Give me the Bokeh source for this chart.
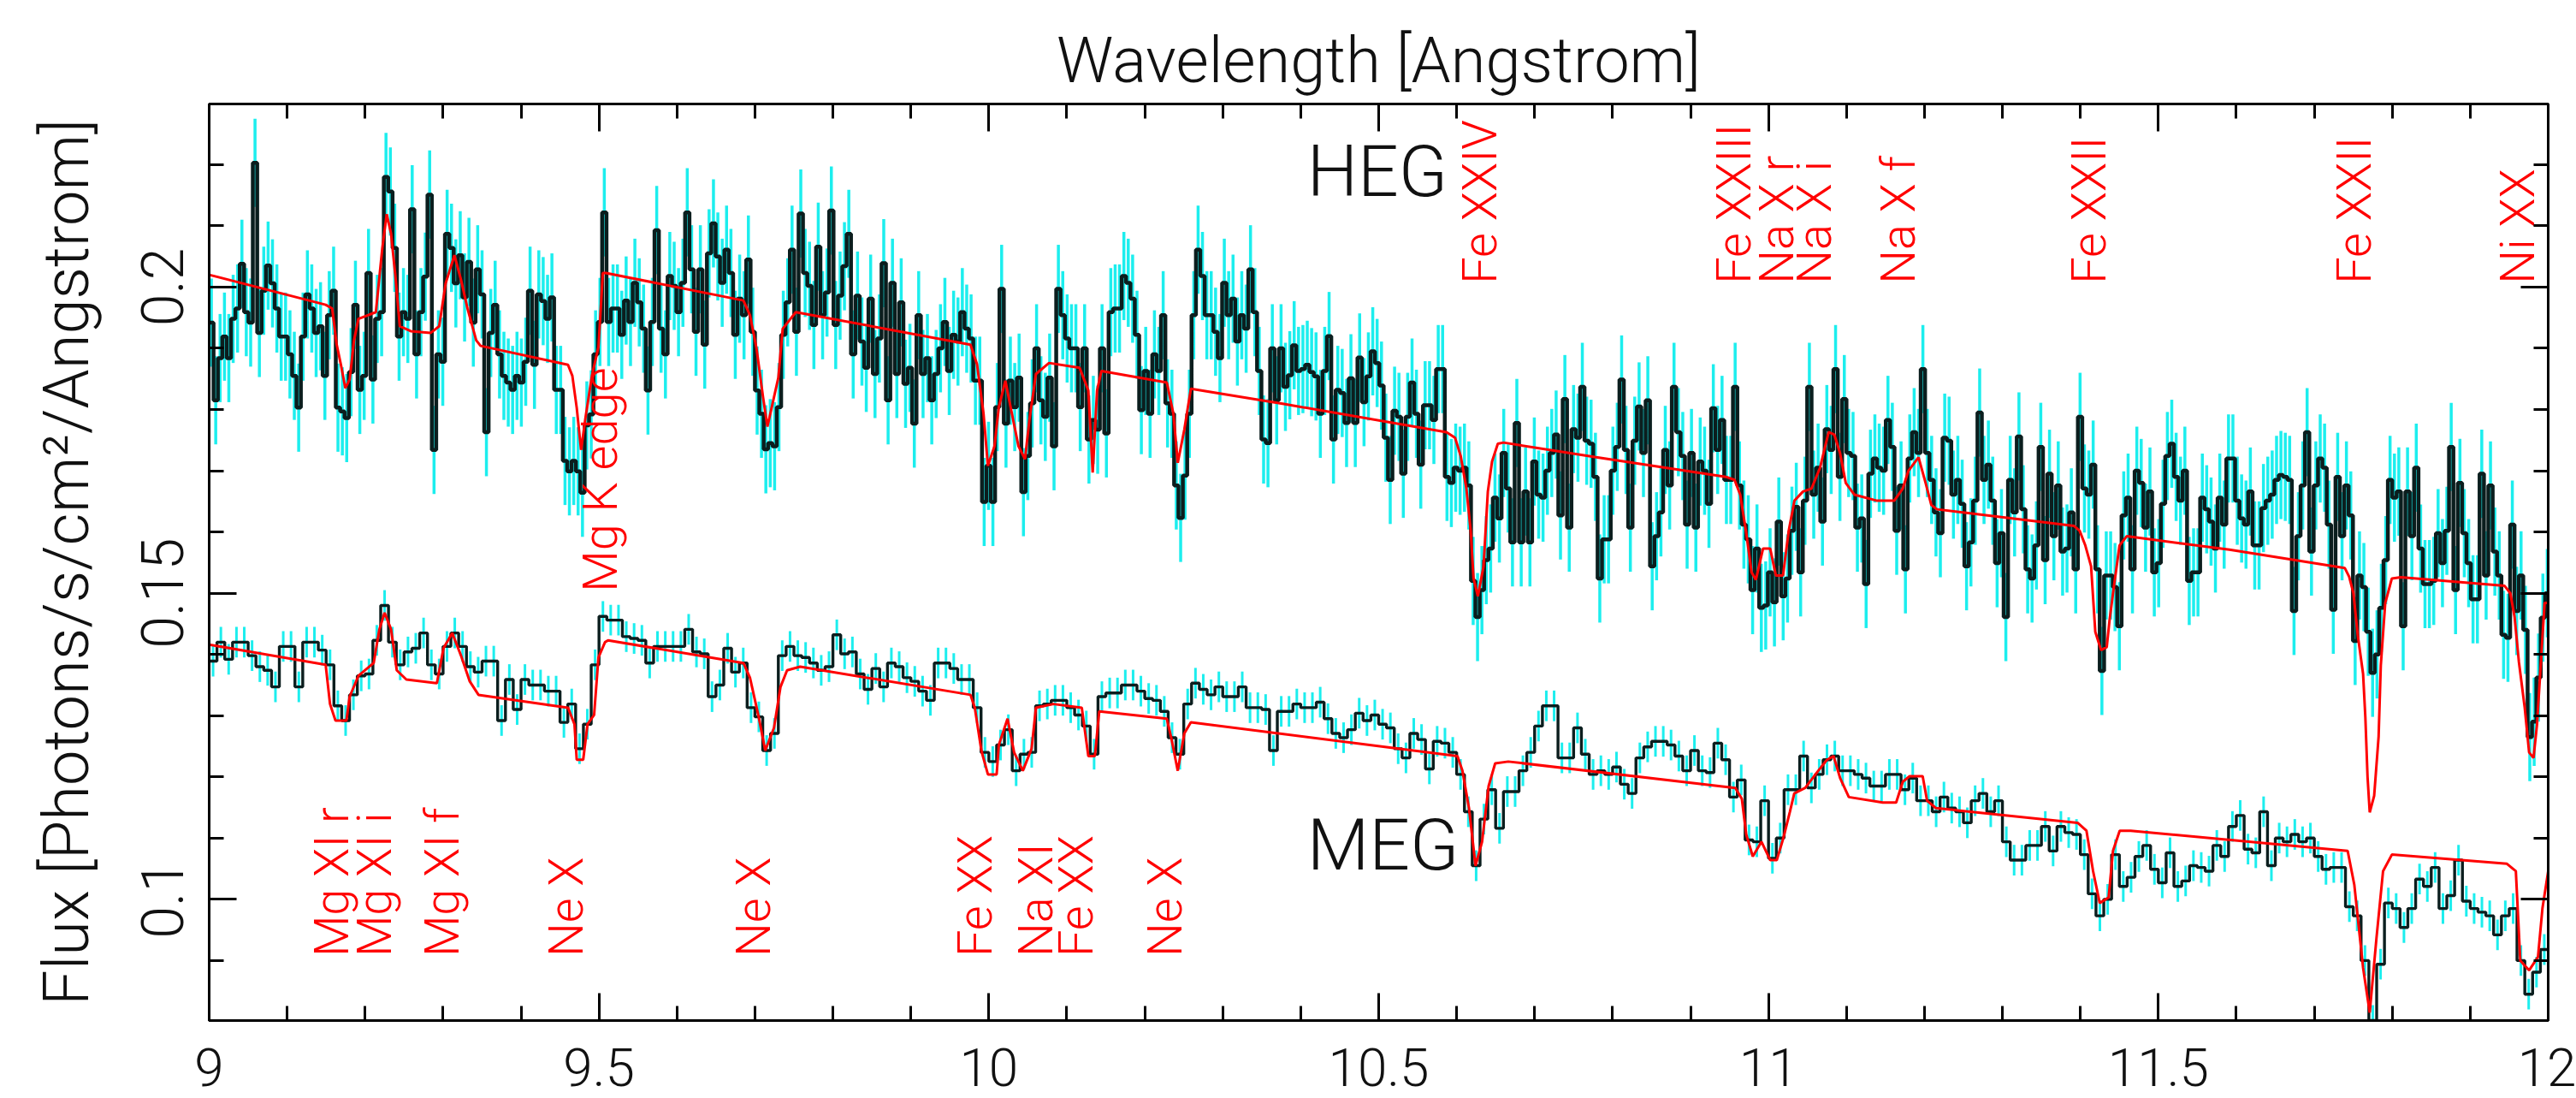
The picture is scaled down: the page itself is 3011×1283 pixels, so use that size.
import numpy as np
from bokeh.plotting import figure
from bokeh.models import (LinearAxis, FixedTicker, Range1d, ColumnDataSource,
                          CustomJSTickFormatter)
from bokeh.embed import file_html
from bokeh.resources import INLINE
from bokeh.core.properties import value

# ---------------- data ----------------
HEG_START = 9.0
HEG_BIN = 0.0056
heg_flux = [
    0.1942, 0.1815, 0.1884, 0.1919, 0.1884, 0.1948, 0.1965, 0.2038, 0.1959, 0.1942,
    0.2203, 0.1925, 0.1994, 0.2035, 0.2006, 0.1965, 0.1919, 0.1919, 0.1890, 0.1855,
    0.1803, 0.1919, 0.1988, 0.1965, 0.1925, 0.1936, 0.1855, 0.1954, 0.1994, 0.1803,
    0.1797, 0.1786, 0.1861, 0.1971, 0.1832, 0.1855, 0.2023, 0.1849, 0.1948, 0.1959,
    0.2180, 0.2156, 0.2064, 0.1919, 0.1959, 0.1948, 0.2127, 0.1890, 0.1959, 0.2017,
    0.2151, 0.1734, 0.1890, 0.1878, 0.2087, 0.2064, 0.2006, 0.2052, 0.1983, 0.2041,
    0.1942, 0.2029, 0.1988, 0.1763, 0.1925, 0.1971, 0.1890, 0.1855, 0.1844, 0.1832,
    0.1855, 0.1844, 0.1878, 0.1994, 0.1873, 0.1988, 0.1977, 0.1948, 0.1983, 0.1832,
    0.1832, 0.1716, 0.1699, 0.1716, 0.1699, 0.1664, 0.1774, 0.1792, 0.1890,
    0.1943, 0.2122, 0.1943, 0.1965, 0.1965, 0.1922, 0.1978, 0.1943, 0.2007, 0.1975,
    0.1932, 0.1831, 0.1943, 0.2093, 0.1932, 0.1890, 0.2018, 0.2002, 0.1959, 0.2007,
    0.2122, 0.2029, 0.1927, 0.2029, 0.1906, 0.2055, 0.2104, 0.2050, 0.2007, 0.2061,
    0.2023, 0.1922, 0.1981, 0.1954, 0.2045, 0.1927, 0.1831, 0.1793, 0.1735, 0.1745,
    0.1740, 0.1804, 0.1922, 0.1975, 0.2061, 0.1927, 0.2120, 0.2023, 0.2002, 0.1938,
    0.2066, 0.1954, 0.1991, 0.2125, 0.1938, 0.1986, 0.2034, 0.2087, 0.1890, 0.1986,
    0.1911, 0.1868, 0.1981, 0.1858, 0.1916, 0.2039, 0.1815, 0.2007, 0.1858, 0.1975,
    0.1842, 0.1868, 0.1777, 0.1954, 0.1858, 0.1884, 0.1815, 0.1858, 0.1900, 0.1943,
    0.1863, 0.1922, 0.1911, 0.1959, 0.1932, 0.1916, 0.1847, 0.1847, 0.1649, 0.1708,
    0.1649, 0.1804, 0.1997, 0.1777, 0.1847, 0.1804, 0.1852, 0.1665, 0.1724, 0.1810,
    0.1900, 0.1815, 0.1788, 0.1852, 0.1740, 0.1997, 0.1954, 0.1916, 0.1900, 0.1900,
    0.1804, 0.1900, 0.1751, 0.1783, 0.1767, 0.1900, 0.1761, 0.1959, 0.1965, 0.1965,
    0.2018, 0.2007, 0.1981, 0.1922, 0.1799, 0.1863, 0.1793, 0.1890, 0.1863, 0.1954,
    0.1810, 0.1793, 0.1676, 0.1623, 0.1692, 0.1793, 0.1954, 0.2061, 0.2018, 0.1954,
    0.1954, 0.1927, 0.1884, 0.2007, 0.1954, 0.1981, 0.1911, 0.1954, 0.1932, 0.2029,
    0.1959, 0.1863, 0.1751, 0.1745, 0.1900, 0.1815, 0.1900,
    0.1837, 0.1856, 0.1905, 0.1863, 0.1866, 0.1873, 0.1861, 0.1854, 0.1793, 0.1863,
    0.1920, 0.1751, 0.1832, 0.1827, 0.1778, 0.1851, 0.1778, 0.1885, 0.1812, 0.1854,
    0.1895, 0.1876, 0.1839, 0.1754, 0.1685, 0.1798, 0.1788, 0.1695, 0.1788, 0.1844,
    0.1793, 0.1710, 0.1807, 0.1807, 0.1783, 0.1866, 0.1866, 0.1690, 0.1680, 0.1705,
    0.1700, 0.1705, 0.1676, 0.1520, 0.1461, 0.1505, 0.1554, 0.1573, 0.1656, 0.1622,
    0.1729, 0.1671, 0.1583, 0.1778, 0.1583, 0.1666, 0.1583, 0.1715, 0.1661, 0.1656,
    0.1700, 0.1729, 0.1759, 0.1627, 0.1817, 0.1607, 0.1768, 0.1754, 0.1837, 0.1749,
    0.1744, 0.1690,
    0.1524, 0.1588, 0.1588, 0.1700, 0.1739, 0.1849, 0.1734, 0.1607, 0.1749, 0.1805,
    0.1729, 0.1815, 0.1544, 0.1593, 0.1632, 0.1734, 0.1676, 0.1837, 0.1763, 0.1724,
    0.1612, 0.1729, 0.1607, 0.1715, 0.1700, 0.1646, 0.1802, 0.1734, 0.1783, 0.1685,
    0.1685, 0.1837, 0.1676, 0.1612, 0.1588, 0.1505, 0.1573, 0.1476, 0.1480, 0.1534,
    0.1485, 0.1617, 0.1495, 0.1524, 0.1602, 0.1641, 0.1534, 0.1651, 0.1837, 0.1661,
    0.1705, 0.1617, 0.1768, 0.1734, 0.1866, 0.1690, 0.1817, 0.1729, 0.1724, 0.1607,
    0.1622, 0.1515, 0.1695, 0.1720, 0.1705, 0.1700, 0.1783, 0.1739, 0.1602, 0.1676,
    0.1539, 0.1720,
    0.1763, 0.1729, 0.1866, 0.1729, 0.1685, 0.1632, 0.1598, 0.1754, 0.1749, 0.1661,
    0.1685, 0.1646, 0.1544, 0.1583, 0.1651, 0.1795, 0.1685, 0.1710, 0.1651, 0.1549,
    0.1598, 0.1461, 0.1685, 0.1632, 0.1756, 0.1637, 0.1539, 0.1524, 0.1578, 0.1739,
    0.1554, 0.1695, 0.1593, 0.1676, 0.1568, 0.1573, 0.1632, 0.1539, 0.1788, 0.1671,
    0.1661, 0.1710, 0.1539, 0.1373, 0.1529, 0.1529, 0.1510, 0.1446, 0.1627, 0.1656,
    0.1539, 0.1700, 0.1680, 0.1607, 0.1666, 0.1534, 0.1549, 0.1646, 0.1724, 0.1744,
    0.1690, 0.1651, 0.1700, 0.1520, 0.1534, 0.1534, 0.1656, 0.1637, 0.1617, 0.1573,
    0.1656, 0.1612, 0.1720,
    0.1720, 0.1651, 0.1622, 0.1612, 0.1666, 0.1578, 0.1578, 0.1639, 0.1651, 0.1661,
    0.1685, 0.1693, 0.1690, 0.1685, 0.1471, 0.1593, 0.1676, 0.1763, 0.1568, 0.1676,
    0.1720, 0.1705, 0.1612, 0.1473, 0.1690, 0.1593, 0.1676, 0.1627, 0.1422, 0.1529,
    0.1510, 0.1437, 0.1370, 0.1400, 0.1476, 0.1554, 0.1685, 0.1656, 0.1666, 0.1446,
    0.1666, 0.1593, 0.1705, 0.1573, 0.1515, 0.1515, 0.1520, 0.1598, 0.1549, 0.1602,
    0.1739, 0.1505, 0.1680, 0.1598, 0.1549, 0.1490, 0.1490, 0.1695, 0.1529, 0.1676,
    0.1568, 0.1529, 0.1432, 0.1427, 0.1612, 0.1471, 0.1529, 0.1440, 0.1265, 0.1290,
    0.1362, 0.1460, 0.1500,
]
HEG_ERR = 0.0072

MEG_START = 9.0
MEG_BIN = 0.01
meg_flux = [
    0.1389, 0.1420, 0.1392, 0.1420, 0.1420, 0.1398, 0.1380, 0.1374, 0.1347, 0.1413,
    0.1413, 0.1347, 0.1420, 0.1420, 0.1407, 0.1383, 0.1316, 0.1292, 0.1334, 0.1365,
    0.1368, 0.1423, 0.1480, 0.1420, 0.1383, 0.1404, 0.1410, 0.1435, 0.1383, 0.1368,
    0.1413, 0.1435, 0.1413, 0.1380, 0.1371, 0.1389, 0.1389, 0.1292, 0.1359, 0.1310,
    0.1359, 0.1350, 0.1350, 0.1340, 0.1340, 0.1289, 0.1319, 0.1246, 0.1286, 0.1383,
    0.1462, 0.1456, 0.1456, 0.1429, 0.1426, 0.1423, 0.1386, 0.1413, 0.1413, 0.1413,
    0.1413, 0.1441, 0.1404, 0.1401, 0.1331, 0.1350, 0.1410, 0.1371, 0.1386, 0.1313,
    0.1298, 0.1243, 0.1271, 0.1398, 0.1413, 0.1398, 0.1395, 0.1386, 0.1374, 0.1380,
    0.1432, 0.1401, 0.1404, 0.1368, 0.1343, 0.1377, 0.1347, 0.1386, 0.1380, 0.1362,
    0.1356, 0.1340, 0.1325, 0.1386, 0.1386, 0.1377, 0.1359, 0.1359, 0.1313, 0.1240,
    0.1225, 0.1252, 0.1277, 0.1210, 0.1237, 0.1240, 0.1316, 0.1319, 0.1325, 0.1325,
    0.1313, 0.1301, 0.1283, 0.1237, 0.1331, 0.1337, 0.1337, 0.1350, 0.1350, 0.1340,
    0.1328, 0.1325, 0.1307, 0.1264, 0.1237, 0.1319, 0.1353, 0.1343, 0.1334, 0.1347,
    0.1331, 0.1331, 0.1347, 0.1313, 0.1313, 0.1310, 0.1243, 0.1307,
    0.1307, 0.1319, 0.1313, 0.1313, 0.1322, 0.1295, 0.1271, 0.1264, 0.1277, 0.1304,
    0.1292, 0.1301, 0.1286, 0.1280, 0.1246, 0.1231, 0.1271, 0.1261, 0.1213, 0.1258,
    0.1255, 0.1240, 0.1204, 0.1143, 0.1055, 0.1131, 0.1179, 0.1116, 0.1176, 0.1176,
    0.1210, 0.1240, 0.1283, 0.1316, 0.1316, 0.1231, 0.1231, 0.1280, 0.1237, 0.1204,
    0.1210, 0.1204, 0.1216, 0.1188, 0.1173, 0.1231, 0.1249, 0.1258, 0.1258, 0.1252,
    0.1234, 0.1210, 0.1243, 0.1210, 0.1207, 0.1255, 0.1228, 0.1167, 0.1195, 0.1097,
    0.1094, 0.1161, 0.1067, 0.1100, 0.1179, 0.1179, 0.1234, 0.1182, 0.1204, 0.1228,
    0.1234, 0.1210, 0.1210, 0.1204, 0.1198, 0.1185, 0.1185,
    0.1204, 0.1204, 0.1179, 0.1198, 0.1161, 0.1161, 0.1143, 0.1167, 0.1149, 0.1143,
    0.1125, 0.1161, 0.1173, 0.1143, 0.1161, 0.1094, 0.1064, 0.1064, 0.1088, 0.1088,
    0.1119, 0.1079, 0.1119, 0.1109, 0.1106, 0.1073, 0.1009, 0.0973, 0.1000, 0.1073,
    0.1021, 0.1036, 0.1070, 0.1088, 0.1049, 0.1027, 0.1076, 0.1021, 0.1030, 0.1055,
    0.1052, 0.1046, 0.1088, 0.1070, 0.1119, 0.1137, 0.1082, 0.1076, 0.1143, 0.1055,
    0.1100, 0.1094, 0.1106, 0.1094, 0.1100, 0.1070, 0.1049, 0.1052, 0.1052, 0.0988,
    0.0973, 0.0900, 0.0802, 0.0894, 0.0994, 0.0985, 0.0954, 0.0985, 0.1033, 0.1021,
    0.1052, 0.0985, 0.1006, 0.1064, 0.0997, 0.0985, 0.0979, 0.0973, 0.0942, 0.0973,
    0.0985, 0.0900, 0.0845, 0.0881, 0.0918,
]
MEG_ERR = 0.0025

heg_model_wl = [
    9.0, 9.1494, 9.1578, 9.1634, 9.1690, 9.1746, 9.1802, 9.1858, 9.1914, 9.2138,
    9.2221, 9.2277, 9.2333, 9.2389, 9.2445, 9.2585, 9.2838, 9.2950, 9.3033, 9.3145,
    9.3230, 9.3313, 9.3425, 9.3481, 9.4602, 9.4658, 9.4714, 9.4770, 9.4826, 9.4909,
    9.4993, 9.5049, 9.5088, 9.6852, 9.6936, 9.7020, 9.7104, 9.7160, 9.7216, 9.7300,
    9.7356, 9.7524, 9.9764, 9.9848, 9.9932, 9.9988, 10.0072, 10.0128, 10.0212, 10.0296,
    10.0380, 10.0464, 10.0520, 10.0604, 10.0772, 10.1164, 10.1276, 10.1332, 10.1388, 10.1444,
    10.2283, 10.2367, 10.2423, 10.2507, 10.2591, 10.3784, 10.5869, 10.5979, 10.6052, 10.6125,
    10.6180, 10.6217, 10.6272, 10.6345, 10.6400, 10.6454, 10.6528, 10.6601, 10.7790, 10.9454,
    10.9564, 10.9637, 10.9710, 10.9783, 10.9838, 10.9930, 11.0021, 11.0094, 11.0186, 11.0259,
    11.0332, 11.0442, 11.0552, 11.0661, 11.0771, 11.0844, 11.0917, 11.0991, 11.1100, 11.1393,
    11.1612, 11.1722, 11.1795, 11.1924, 11.2015, 11.2088, 11.2161, 11.3917, 11.3990, 11.4063,
    11.4137, 11.4191, 11.4265, 11.4338, 11.4374, 11.4429, 11.4502, 11.4594, 11.5911, 11.7392,
    11.7447, 11.7502, 11.7557, 11.7626, 11.7655, 11.7683, 11.7711, 11.7768, 11.7825, 11.7853,
    11.7910, 11.7995, 11.8109, 11.9441, 11.9514, 11.9569, 11.9624, 11.9698, 11.9755, 11.9812,
    11.9857, 11.9897, 11.9954, 12.0,
]
heg_model_flux = [
    0.2020, 0.1971, 0.1965, 0.1907, 0.1873, 0.1835, 0.1849, 0.1913, 0.1948, 0.1959,
    0.2064, 0.2119, 0.2087, 0.2017, 0.1936, 0.1928, 0.1925, 0.1936, 0.2006, 0.2052,
    0.2012, 0.1965, 0.1913, 0.1904, 0.1873, 0.1855, 0.1803, 0.1734, 0.1786, 0.1855,
    0.1902, 0.2023, 0.2023, 0.1978, 0.1954, 0.1900, 0.1820, 0.1772, 0.1804, 0.1852,
    0.1932, 0.1959, 0.1906, 0.1874, 0.1793, 0.1708, 0.1740, 0.1804, 0.1847, 0.1793,
    0.1740, 0.1719, 0.1783, 0.1858, 0.1876, 0.1868, 0.1831, 0.1697, 0.1831, 0.1863,
    0.1844, 0.1793, 0.1713, 0.1767, 0.1834, 0.1809, 0.1763, 0.1754, 0.1724, 0.1671,
    0.1602, 0.1524, 0.1495, 0.1544, 0.1666, 0.1715, 0.1744, 0.1746, 0.1722, 0.1690,
    0.1685, 0.1661, 0.1602, 0.1534, 0.1522, 0.1573, 0.1573, 0.1529, 0.1529, 0.1602,
    0.1651, 0.1666, 0.1671, 0.1705, 0.1763, 0.1759, 0.1729, 0.1680, 0.1661, 0.1651,
    0.1651, 0.1671, 0.1700, 0.1722, 0.1680, 0.1644, 0.1637, 0.1610, 0.1602, 0.1578,
    0.1544, 0.1437, 0.1407, 0.1412, 0.1456, 0.1510, 0.1578, 0.1593, 0.1571, 0.1541,
    0.1527, 0.1500, 0.1432, 0.1368, 0.1297, 0.1200, 0.1142, 0.1169, 0.1266, 0.1382,
    0.1484, 0.1524, 0.1526, 0.1512, 0.1500, 0.1461, 0.1388, 0.1314, 0.1240, 0.1231,
    0.1286, 0.1368, 0.1484, 0.1484,
]

meg_model_wl = [
    9.0, 9.1494, 9.1550, 9.1620, 9.1760, 9.1802, 9.1914, 9.2110, 9.2183, 9.2250,
    9.2333, 9.2406, 9.2529, 9.2921, 9.3005, 9.3117, 9.3230, 9.3342, 9.3454, 9.4602,
    9.4685, 9.4714, 9.4797, 9.4853, 9.4937, 9.4993, 9.5077, 9.5116, 9.6852, 9.6936,
    9.7048, 9.7132, 9.7244, 9.7328, 9.7412, 9.7580, 9.9764, 9.9820, 9.9904, 9.9988,
    10.0100, 10.0128, 10.0240, 10.0324, 10.0436, 10.0548, 10.0604, 10.0828, 10.1192, 10.1276,
    10.1360, 10.1416, 10.2283, 10.2339, 10.2423, 10.2507, 10.2591, 10.6010, 10.6074, 10.6158,
    10.6242, 10.6326, 10.6410, 10.6494, 10.6662, 10.9574, 10.9658, 10.9714, 10.9798, 10.9910,
    11.0022, 11.0106, 11.0190, 11.0274, 11.0330, 11.0470, 11.0638, 11.0750, 11.0834, 11.0918,
    11.1030, 11.1466, 11.1637, 11.1722, 11.1807, 11.1977, 11.2034, 11.2147, 11.3964, 11.4078,
    11.4163, 11.4248, 11.4362, 11.4418, 11.4504, 11.4645, 11.7428, 11.7513, 11.7626, 11.7711,
    11.7797, 11.7882, 11.7995, 11.9471, 11.9585, 11.9642, 11.9755, 11.9869, 11.9926, 12.0,
]
meg_model_flux = [
    0.1416, 0.1383, 0.1319, 0.1292, 0.1292, 0.1331, 0.1365, 0.1386, 0.1441, 0.1468,
    0.1441, 0.1374, 0.1359, 0.1353, 0.1410, 0.1435, 0.1398, 0.1356, 0.1334, 0.1313,
    0.1286, 0.1228, 0.1228, 0.1286, 0.1301, 0.1395, 0.1420, 0.1423, 0.1386, 0.1362,
    0.1298, 0.1243, 0.1280, 0.1347, 0.1374, 0.1380, 0.1334, 0.1313, 0.1243, 0.1204,
    0.1204, 0.1252, 0.1295, 0.1240, 0.1210, 0.1246, 0.1313, 0.1319, 0.1313, 0.1234,
    0.1234, 0.1307, 0.1295, 0.1264, 0.1210, 0.1271, 0.1289, 0.1234, 0.1210, 0.1149,
    0.1055, 0.1094, 0.1185, 0.1222, 0.1225, 0.1182, 0.1164, 0.1106, 0.1070, 0.1094,
    0.1064, 0.1064, 0.1100, 0.1143, 0.1173, 0.1182, 0.1210, 0.1228, 0.1234, 0.1198,
    0.1167, 0.1158, 0.1158, 0.1192, 0.1201, 0.1201, 0.1161, 0.1149, 0.1125, 0.1112,
    0.1046, 0.0994, 0.1003, 0.1079, 0.1112, 0.1112, 0.1079, 0.1024, 0.0888, 0.0815,
    0.0936, 0.1046, 0.1073, 0.1058, 0.1046, 0.0900, 0.0884, 0.0906, 0.0985, 0.1046,
]

# line identifications (wavelength where each label is written)
heg_line_names = ["Fe XXIV", "Fe XXIII", "Na X r", "Na X i", "Na X f",
                  "Fe XXII", "Fe XXII", "Ni XX"]
heg_line_wl = [10.630, 10.956, 11.011, 11.059, 11.167, 11.411, 11.751, 11.961]
meg_line_names = ["Mg XI r", "Mg XI i", "Mg XI f", "Ne X", "Ne X",
                  "Fe XX", "Na XI", "Fe XX", "Ne X"]
meg_line_wl = [9.157, 9.212, 9.299, 9.458, 9.698, 9.983, 10.061, 10.112, 10.226]
edge_names = ["Mg K edge"]
edge_wl = [9.502]

x_tick_values = [9, 9.5, 10, 10.5, 11, 11.5, 12]
y_tick_values = [0.1, 0.15, 0.2]

# ---------------- figure ----------------
FONT = "Roboto Light, Noto Sans Light, DejaVu Sans"
DATA_COLOR = "#0b1e1e"
ERR_COLOR = "#1ceeee"
MODEL_COLOR = "#ff0000"

p = figure(width=3011, height=1283, x_range=Range1d(9.0, 12.0),
           y_range=Range1d(0.0802, 0.2299), output_backend="svg",
           toolbar_location=None, x_axis_type=None, y_axis_type=None,
           min_border_left=244, min_border_right=33, min_border_top=121,
           min_border_bottom=91)
p.outline_line_color = "black"
p.outline_line_width = 3
p.background_fill_color = "white"
p.border_fill_color = "white"

fmt = CustomJSTickFormatter(code="return String(Math.round(tick*100)/100);")
xt = FixedTicker(ticks=x_tick_values,
                 minor_ticks=list(np.round(np.arange(9.0, 12.01, 0.1), 2)))
yt = FixedTicker(ticks=y_tick_values,
                 minor_ticks=list(np.round(np.arange(0.08, 0.2301, 0.01), 2)))


def style_axis(ax, major_len=32, minor_len=17):
    ax.major_tick_in = major_len
    ax.major_tick_out = 0
    ax.minor_tick_in = minor_len
    ax.minor_tick_out = 0
    ax.axis_line_width = 3
    ax.major_tick_line_width = 3
    ax.minor_tick_line_width = 3
    ax.axis_line_color = "black"
    ax.major_tick_line_color = "black"
    ax.minor_tick_line_color = "black"
    ax.major_label_text_font = FONT
    ax.major_label_text_color = "#111111"
    ax.axis_label_text_font = FONT
    ax.axis_label_text_font_style = "normal"
    ax.axis_label_text_color = "#111111"


xb = LinearAxis(ticker=xt, formatter=fmt)
style_axis(xb)
xb.major_label_text_font_size = "62px"
xb.major_label_text_line_height = 0.7
xb.major_label_standoff = 32
p.add_layout(xb, "below")

xa = LinearAxis(ticker=xt, formatter=fmt, axis_label="Wavelength [Angstrom]")
style_axis(xa)
xa.major_label_text_color = None
xa.major_label_text_font_size = "1px"
xa.major_label_standoff = 0
xa.axis_label_text_font_size = "74px"
xa.axis_label_standoff = 8
p.add_layout(xa, "above")

yl = LinearAxis(ticker=yt, formatter=fmt,
                axis_label="Flux [Photons/s/cm\u00b2/Angstrom]")
style_axis(yl)
yl.major_label_text_font_size = "68px"
yl.major_label_orientation = "vertical"
yl.major_label_standoff = 30
yl.axis_label_text_font_size = "74px"
yl.axis_label_standoff = 42
p.add_layout(yl, "left")

yr = LinearAxis(ticker=yt, formatter=fmt)
style_axis(yr)
yr.major_label_text_color = None
yr.major_label_text_font_size = "1px"
yr.major_label_standoff = 0
p.add_layout(yr, "right")

# ---------------- glyphs ----------------
def add_spectrum(start, binw, flux, err, lw):
    n = len(flux)
    edges = start + binw * np.arange(n + 1)
    centers = start + binw * (np.arange(n) + 0.5)
    f = np.asarray(flux)
    p.segment(x0=centers, y0=f - err, x1=centers, y1=f + err,
              line_color=ERR_COLOR, line_width=lw[0])
    p.step(x=edges, y=np.append(f, f[-1]), mode="after",
           line_color=DATA_COLOR, line_width=lw[1])


add_spectrum(HEG_START, HEG_BIN, heg_flux, HEG_ERR, (3.5, 4.5))
add_spectrum(MEG_START, MEG_BIN, meg_flux, MEG_ERR, (3.0, 3.4))

p.line(heg_model_wl, heg_model_flux, line_color=MODEL_COLOR, line_width=3)
p.line(meg_model_wl, meg_model_flux, line_color=MODEL_COLOR, line_width=3)

# line labels (rotated, red)
lab_src_top = ColumnDataSource(dict(x=heg_line_wl, y=[0.2005] * len(heg_line_wl),
                                    t=heg_line_names))
lab_src_bot = ColumnDataSource(dict(x=meg_line_wl, y=[0.0906] * len(meg_line_wl),
                                    t=meg_line_names))
lab_src_edge = ColumnDataSource(dict(x=edge_wl, y=[0.1502], t=edge_names))
for src in (lab_src_top, lab_src_bot, lab_src_edge):
    p.text(x="x", y="y", text="t", source=src, angle=np.pi / 2,
           text_align="left", text_baseline="middle",
           text_font=value(FONT), text_font_size="56px", text_color=MODEL_COLOR)

grating_src = ColumnDataSource(dict(x=[10.408, 10.408], y=[0.2189, 0.1088],
                                    t=["HEG", "MEG"]))
p.text(x="x", y="y", text="t", source=grating_src, text_align="left",
       text_baseline="middle", text_font=value(FONT),
       text_font_size="84px", text_color="#111111")

open("out.html", "w").write(file_html(p, INLINE))
